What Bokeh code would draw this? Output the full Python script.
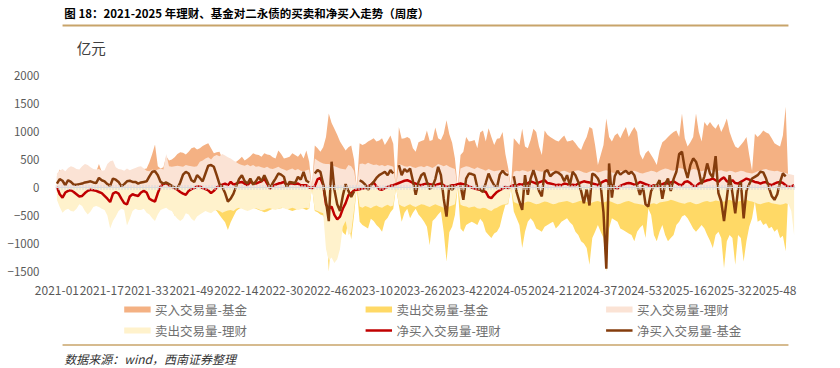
import numpy as np
from bokeh.plotting import figure
from bokeh.layouts import column
from bokeh.models import ColumnDataSource, FixedTicker, Range1d, Span
from bokeh.core.properties import value
from bokeh.embed import file_html
from bokeh.resources import INLINE

nan = float("nan")

title = "图 18：2021-2025 年理财、基金对二永债的买卖和净买入走势（周度）"
unit = "亿元"
source_note = "数据来源：wind，西南证券整理"

tick_labels = ["2021-01", "2021-17", "2021-33", "2021-49", "2022-14", "2022-30",
               "2022-46", "2023-10", "2023-26", "2023-42", "2024-05", "2024-21",
               "2024-37", "2024-53", "2025-16", "2025-32", "2025-48"]
tick_step = 16
y_ticks = [-1500, -1000, -500, 0, 500, 1000, 1500, 2000]

series_names = ["买入交易量-基金", "卖出交易量-基金", "买入交易量-理财",
                "卖出交易量-理财", "净买入交易量-理财", "净买入交易量-基金"]

# 买入交易量-基金
fund_buy = [
    200, 320, 250, 220, 240, 260, 250, 240, 230, 260,
    280, 270, 260, 250, 280, 420, 280, 260, 300, 320,
    280, 260, 270, 250, 260, 270, 280, 300, 320, 330,
    350, 330, 340, 450, 600, 770, 380, 340, 360, 560,
    480, 500, 540, 600, 630, 620, 590, 640, 700, 720,
    680, 700, 740, 770, 790, 700, 610, 630, 640, 520,
    550, 500, 430, 450, 460, 500, 550, 480, 520, 560,
    610, 590, 580, 550, 610, 590, 580, 540, 520, 660,
    600, 520, 530, 550, 610, 580, 550, 610, 520, 660,
    460, 0, 750, 700, 640, 720, 900, 1320, 1150, 1050,
    940, 820, 740, 660, 720, 750, 500, 0, 790, 760,
    780, 820, 850, 880, 820, 840, 880, 760, 840, 930,
    780, 0, 1080, 870, 880, 900, 870, 700, 640, 810,
    830, 850, 1020, 830, 850, 1070, 880, 850, 960, 1200,
    950, 800, 520, 0, 580, 640, 900, 820, 830, 850,
    700, 980, 1020, 820, 1060, 900, 760, 870, 880, 990,
    600, 350, 0, 880, 820, 760, 1050, 730, 700, 850,
    1050, 990, 730, 580, 1020, 940, 900, 870, 840, 820,
    880, 930, 820, 830, 850, 790, 720, 670, 800, 900,
    1080, 1050, 760, 400, 580, 760, 1230, 900, 820, 930,
    970, 880, 990, 1080, 900, 1000, 1080, 990, 600, 500,
    610, 660, 580, 500, 400, 660, 810, 850, 900, 950,
    990, 1020, 900, 1320, 880, 730, 810, 900, 1320, 990,
    820, 1170, 1100, 1170, 1100, 1050, 1140, 990, 1100, 1230,
    990, 850, 730, 700, 760, 820, 900, 580, 300, 960,
    900, 950, 1020, 980, 960, 880, 790, 760, 730, 930,
    1440, 0, 0, 0,
]

# 卖出交易量-基金
fund_sell = [
    -100, -150, -200, -180, -150, -170, -190, -180, -170, -200,
    -220, -210, -200, -180, -170, -160, -180, -200, -240, -260,
    -220, -200, -190, -200, -230, -250, -240, -220, -210, -200,
    -210, -220, -230, -240, -260, -280, -250, -230, -240, -260,
    -300, -380, -500, -520, -350, -300, -320, -330, -340, -350,
    -330, -330, -350, -380, -360, -340, -380, -420, -490, -560,
    -620, -760, -620, -520, -420, -380, -360, -380, -400, -380,
    -360, -380, -400, -420, -440, -430, -400, -380, -360, -380,
    -370, -360, -380, -400, -420, -400, -380, -360, -380, -400,
    -380, 0, -420, -440, -480, -500, -620, -1500, -800, -1200,
    -960, -670, -800, -850, -600, -930, -500, 0, -610, -670,
    -700, -730, -560, -600, -670, -720, -790, -600, -540, -440,
    -380, 0, -320, -610, -450, -380, -550, -450, -380, -480,
    -540, -610, -700, -1030, -600, -550, -480, -430, -790, -1320,
    -800, -700, -490, 0, -730, -790, -670, -640, -610, -640,
    -670, -560, -620, -790, -850, -900, -820, -790, -700, -490,
    -310, -300, 0, -430, -550, -670, -1080, -790, -610, -550,
    -610, -730, -760, -790, -700, -670, -640, -610, -730, -680,
    -610, -580, -550, -620, -670, -790, -850, -960, -1000, -1080,
    -1380, -900, -790, -670, -790, -900, -1500, -730, -550, -580,
    -610, -730, -760, -790, -820, -850, -960, -790, -720, -670,
    -900, -380, -490, -850, -960, -790, -670, -850, -960, -900,
    -850, -670, -610, -520, -490, -550, -640, -730, -790, -730,
    -670, -730, -850, -950, -1080, -850, -790, -900, -1440, -960,
    -850, -900, -1380, -850, -900, -1320, -960, -700, -550, -250,
    -610, -580, -670, -640, -730, -700, -790, -740, -900, -860,
    -1140, 0, 0, 0,
]

# 买入交易量-理财
wm_buy = [
    250, 300, 330, 290, 350, 380, 360, 330, 320, 380,
    420, 400, 360, 330, 320, 330, 300, 310, 420, 470,
    480, 360, 330, 320, 300, 340, 310, 330, 350, 370,
    380, 340, 300, 290, 320, 300, 320, 340, 320, 600,
    380, 370, 380, 390, 380, 370, 400, 390, 380, 370,
    380, 460, 480, 520, 540, 500, 560, 580, 560, 600,
    570, 540, 520, 480, 450, 420, 400, 390, 410, 380,
    400, 370, 380, 360, 350, 370, 340, 330, 350, 370,
    340, 320, 300, 320, 340, 310, 330, 300, 290, 310,
    320, 0, 520, 480, 450, 430, 420, 420, 400, 380,
    360, 340, 330, 320, 400, 380, 300, 0, 420, 430,
    410, 440, 420, 400, 410, 390, 400, 380, 400, 390,
    370, 0, 420, 400, 380, 370, 390, 360, 350, 370,
    380, 360, 390, 370, 350, 380, 420, 400, 380, 400,
    370, 350, 330, 0, 340, 360, 380, 370, 350, 330,
    360, 340, 320, 300, 330, 310, 290, 300, 310, 300,
    290, 270, 0, 280, 300, 290, 310, 300, 280, 300,
    320, 310, 290, 280, 300, 310, 290, 300, 280, 270,
    290, 300, 280, 260, 280, 300, 310, 290, 270, 260,
    280, 300, 290, 270, 280, 300, 310, 290, 270, 260,
    280, 290, 300, 280, 270, 290, 300, 280, 260, 250,
    270, 280, 300, 290, 270, 300, 320, 340, 330, 310,
    300, 330, 350, 340, 320, 300, 310, 330, 320, 300,
    290, 310, 330, 320, 300, 280, 300, 310, 290, 280,
    300, 290, 270, 280, 300, 290, 270, 260, 250, 270,
    290, 300, 320, 330, 310, 300, 290, 300, 280, 270,
    260, 240, 230, 220,
]

# 卖出交易量-理财
wm_sell = [
    -220, -350, -450, -400, -380, -420, -430, -380, -300, -330,
    -420, -480, -430, -350, -330, -350, -380, -400, -500, -730,
    -600, -520, -420, -380, -400, -680, -560, -420, -380, -400,
    -400, -380, -450, -480, -550, -600, -480, -400, -380, -360,
    -400, -420, -500, -560, -600, -560, -460, -480, -560, -600,
    -520, -480, -450, -420, -440, -460, -420, -400, -420, -450,
    -430, -410, -400, -420, -380, -360, -380, -400, -420, -400,
    -380, -370, -390, -410, -400, -380, -370, -390, -400, -380,
    -360, -370, -390, -380, -360, -380, -400, -390, -370, -360,
    -380, 0, -400, -420, -440, -460, -1100, -1300, -1250, -1350,
    -1280, -1100, -700, -600, -850, -800, -400, 0, -340, -360,
    -330, -350, -370, -340, -320, -350, -360, -330, -310, -340,
    -320, 0, -300, -330, -350, -320, -300, -330, -350, -320,
    -300, -310, -330, -350, -320, -300, -320, -340, -360, -380,
    -340, -320, -300, 0, -310, -330, -340, -360, -350, -340,
    -370, -380, -360, -370, -400, -420, -380, -360, -330, -310,
    -300, -280, 0, -260, -280, -300, -290, -270, -250, -260,
    -280, -300, -290, -270, -250, -260, -280, -300, -290, -270,
    -260, -250, -240, -260, -280, -270, -250, -230, -240, -260,
    -280, -270, -250, -240, -260, -270, -250, -240, -260, -280,
    -300, -290, -270, -250, -240, -260, -280, -290, -300, -310,
    -330, -320, -290, -280, -300, -270, -260, -250, -240, -220,
    -230, -250, -270, -280, -290, -270, -260, -280, -300, -290,
    -270, -250, -240, -260, -250, -230, -240, -260, -250, -230,
    -220, -240, -260, -250, -240, -230, -220, -240, -250, -270,
    -290, -300, -280, -270, -260, -280, -290, -300, -310, -300,
    -280, -300, -420, -850,
]

# 净买入交易量-理财
wm_net = [
    10, -120, -180, -90, -60, -50, -80, -120, -160, -150,
    -100, -60, -40, -50, -60, -80, -100, -150, -200, -260,
    -110, -80, -110, -200, -280, -300, -160, -120, -140, -150,
    -90, -60, -90, -200, -230, -250, -100, 20, 60, 80,
    40, 10, -10, -40, -80, -110, -130, -60, -30, -10,
    20, 20, -10, -30, -50, -100, -60, 0, 30, 50,
    70, 40, 100, 50, 70, 90, 100, 70, 40, 100,
    80, 70, 90, 110, 160, 70, -20, 30, 50, 70,
    80, 100, 40, 70, 70, 60, 70, 40, 40, 40,
    0, -10, 20, 150, 170, 50, -300, -380, -340, -490,
    -570, -520, -380, -280, -140, -100, -50, -40, -30, -20,
    -10, 20, 50, 90, 20, -30, -40, -10, 10, 30,
    40, 60, 80, 100, 120, 130, 110, 80, 70, 50,
    40, 60, 70, 60, 50, 40, 60, 70, 40, 10,
    20, 40, 40, 60, 70, 60, 40, 20, 0, -20,
    -30, -40, -60, -80, -170, -190, -130, -80, -50, -20,
    10, -10, 20, 40, 30, 60, 50, 80, 70, 110,
    90, 70, 90, 110, 130, 80, 70, 60, 40, 50,
    40, 70, 60, 40, 50, 40, 70, 90, 110, 100,
    90, 70, 60, 40, 80, 110, 130, 90, 40, 0,
    -20, 30, 50, 70, 80, 70, 50, 60, 100, 80,
    60, 40, 20, 40, 10, 30, 60, 80, 70, 90,
    110, 80, 50, 40, 100, 110, 80, 30, 20, 70,
    90, 110, 130, 140, 160, 130, 100, 150, 180, 110,
    100, 130, 80, 70, 100, 130, 160, 140, 120, 100,
    90, 70, 90, 100, 60, 40, 70, 90, 100, 80,
    40, 10, 20, 40,
]

# 净买入交易量-基金
fund_net = [
    70, 150, 120, 40, 130, 100, 50, 50, 60, 70,
    90, 100, 110, 90, 80, 170, 130, 110, 60, 30,
    160, 140, 100, 20, 60, 110, 120, 100, 100, 70,
    90, 100, 110, 200, 280, 290, 220, 100, 70, 90,
    60, 30, 0, -20, 90, 230, 280, 250, 130, 100,
    220, 170, 110, 250, 390, 400, 370, 220, 60, 10,
    -100, -250, -200, -110, 30, 150, 220, 110, 70, 160,
    50, 110, 190, 110, 220, 110, -10, 80, 160, 250,
    230, 190, 0, 100, 90, 80, 190, 140, 280, 120,
    90, nan, 250, 310, 280, 60, -250, -600, 460, -40,
    -300, -420, -150, 60, -60, -170, -70, nan, 130, 100,
    50, -40, 40, 100, 170, 220, 250, 280, 220, 310,
    250, nan, 400, 220, 330, 280, 340, 120, -130, 100,
    220, 260, 100, -30, 20, 150, 370, 220, -200, -520,
    40, -40, 20, nan, 40, -220, 160, 250, 240, 220,
    0, -40, -80, 80, 250, 130, 40, 0, 230, 300,
    240, 220, nan, 200, -80, -250, -400, 220, -130, 160,
    310, 150, -60, -160, 280, 310, 200, 250, 280, 260,
    220, 110, 220, 40, 280, 220, 100, -60, -280, -30,
    -320, 250, 220, 160, 40, -450, -1450, 430, -180, 200,
    300, 230, 270, 300, 240, 280, 220, 40, -130, 40,
    -300, -340, -60, 20, 40, 130, -200, 60, 160, -60,
    150, 280, 600, 640, 340, 170, 400, 520, 460, 300,
    60, 200, 430, 250, 180, 560, -100, -250, -600, -190,
    220, -100, -460, -40, 100, -550, -60, 60, 160, 190,
    220, 280, 270, 160, 0, -150, -220, -120, 100, 250,
    200, nan, nan, nan,
]

C_FUND_BUY = "#F4B183"
C_FUND_SELL = "#FFD966"
C_WM_BUY = "#FBE3D5"
C_WM_SELL = "#FFF2CC"
C_WM_NET = "#C00000"
C_FUND_NET = "#843C0C"
TAN = "#C8A46A"
FONT = "Noto Sans CJK SC"
W = 840

n = len(fund_buy)
src = ColumnDataSource(dict(
    x=np.arange(n),
    fund_buy=np.array(fund_buy, dtype=float),
    fund_sell=np.array(fund_sell, dtype=float),
    wm_buy=np.array(wm_buy, dtype=float),
    wm_sell=np.array(wm_sell, dtype=float),
    wm_net=np.array(wm_net, dtype=float),
    fund_net=np.array(fund_net, dtype=float),
))


def blank(height):
    f = figure(width=W, height=height, x_range=Range1d(0, W), y_range=Range1d(height, 0),
               output_backend="svg", toolbar_location=None, min_border=0,
               x_axis_location=None, y_axis_location=None)
    f.grid.visible = False
    f.outline_line_color = None
    return f


# ---- header ----
top = blank(60)
top.text(x=[10], y=[12], text=[title], text_font=value(FONT), text_font_style="bold",
         text_font_size="11.5px", text_baseline="middle", text_color="#000000")
top.segment(x0=[8], y0=[25], x1=[832], y1=[25], line_color=TAN, line_width=2)
top.text(x=[24], y=[47], text=[unit], text_font=value(FONT), text_font_size="14.5px",
         text_baseline="middle", text_color="#404040")

# ---- main chart ----
p = figure(width=W, height=237, x_range=Range1d(-0.5, n - 0.5), y_range=Range1d(-1500, 2000),
           output_backend="svg", toolbar_location=None,
           min_border_left=55, min_border_right=45, min_border_top=15, min_border_bottom=25)
p.grid.visible = False
p.outline_line_color = None

p.varea(x="x", y1=0, y2="fund_buy", source=src, fill_color=C_FUND_BUY)
p.varea(x="x", y1=0, y2="fund_sell", source=src, fill_color=C_FUND_SELL)
p.varea(x="x", y1=0, y2="wm_buy", source=src, fill_color=C_WM_BUY)
p.varea(x="x", y1=0, y2="wm_sell", source=src, fill_color=C_WM_SELL)

p.add_layout(Span(location=0, dimension="width", line_color="#D9D9D9", line_width=1))
p.add_layout(Span(location=0, dimension="width", line_color="#D6D9DE", line_width=5,
                  line_dash="1 2"))

p.line(x="x", y="wm_net", source=src, line_color=C_WM_NET, line_width=2.5)
p.line(x="x", y="fund_net", source=src, line_color=C_FUND_NET, line_width=2.5)

x_ticks = [i * tick_step for i in range(len(tick_labels))]
p.xaxis.ticker = FixedTicker(ticks=x_ticks)
p.xaxis.major_label_overrides = {t: lab for t, lab in zip(x_ticks, tick_labels)}
p.yaxis.ticker = FixedTicker(ticks=y_ticks)
p.yaxis.major_label_overrides = {v: (str(v) if v >= 0 else "\u2212" + str(-v)) for v in y_ticks}
for ax in (p.xaxis[0], p.yaxis[0]):
    ax.axis_line_color = None
    ax.major_tick_line_color = None
    ax.minor_tick_line_color = None
    ax.major_label_text_font = FONT
    ax.major_label_text_color = "#595959"
p.xaxis.major_label_text_font_size = "12px"
p.yaxis.major_label_text_font_size = "11.5px"
p.xaxis.major_label_standoff = 8
p.yaxis.major_label_standoff = 10

# ---- legend + footer ----
bot = blank(71)
col_x = [78, 352, 625]
row_y = [12, 33]
kinds = ["patch", "patch", "patch", "patch", "line", "line"]
colors = [C_FUND_BUY, C_FUND_SELL, C_WM_BUY, C_WM_SELL, C_WM_NET, C_FUND_NET]
for k, (name, kind, c) in enumerate(zip(series_names, kinds, colors)):
    cx = col_x[k % 3]
    cy = row_y[k // 3]
    if kind == "patch":
        bot.quad(left=[cx], right=[cx + 30], top=[cy - 3], bottom=[cy + 3],
                 fill_color=c, line_color=None)
    else:
        bot.segment(x0=[cx], y0=[cy], x1=[cx + 30], y1=[cy], line_color=c, line_width=2.5)
    bot.text(x=[cx + 35], y=[cy], text=[name], text_font=value(FONT), text_font_size="12.5px",
             text_baseline="middle", text_color="#707070")
bot.segment(x0=[8], y0=[47.5], x1=[832], y1=[47.5], line_color=TAN, line_width=1.5)
bot.text(x=[10], y=[61], text=[source_note], text_font=value(FONT), text_font_style="italic",
         text_font_size="12px", text_baseline="middle", text_color="#333333")

layout = column(top, p, bot, spacing=0)
open("out.html", "w").write(file_html(layout, INLINE))
